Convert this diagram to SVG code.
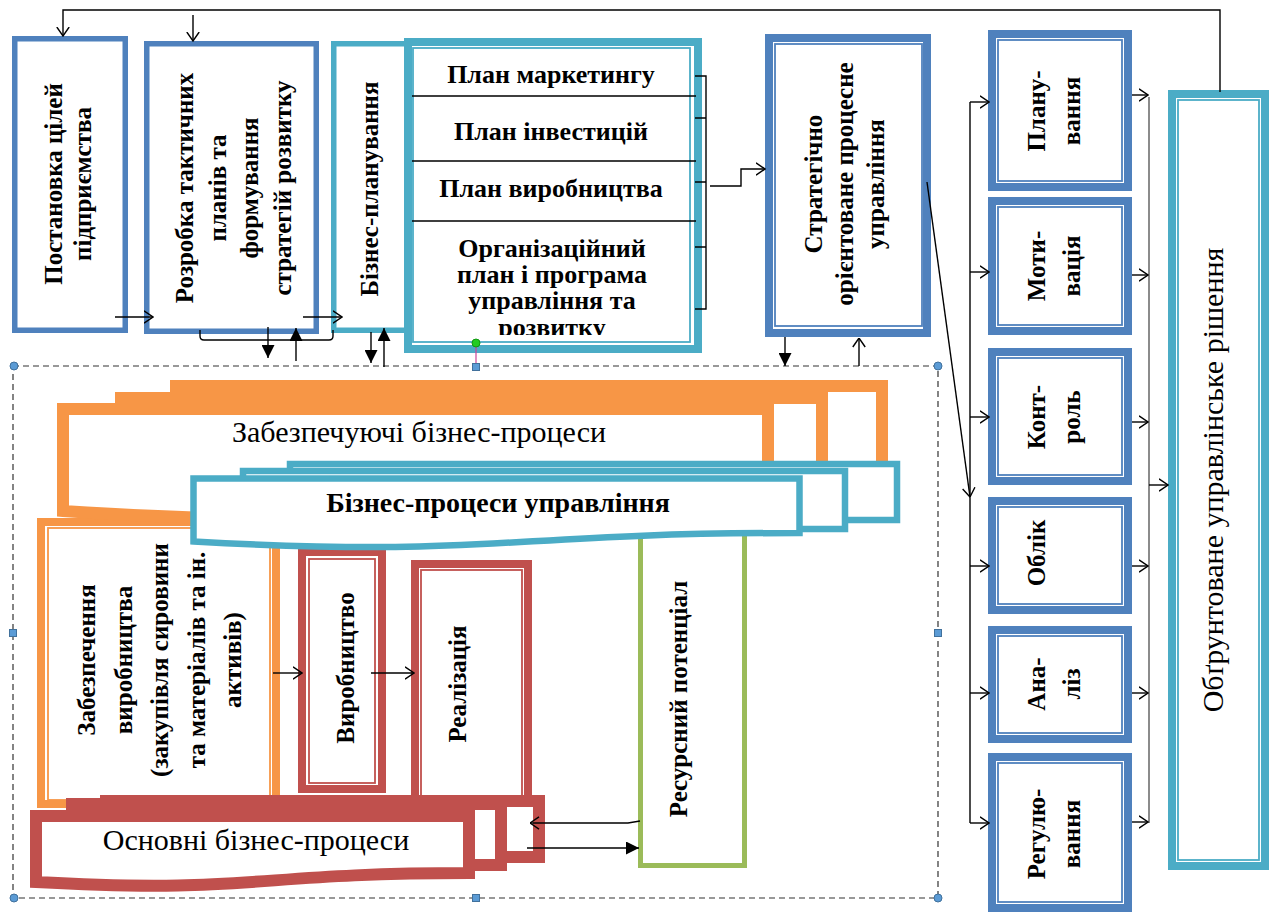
<svg xmlns="http://www.w3.org/2000/svg" width="1275" height="915" viewBox="0 0 1275 915">
<defs>
<style>
text{font-family:"Liberation Serif","Times New Roman",serif;fill:#000}
.b{font-weight:bold;font-size:25px}
.pl{font-weight:bold;font-size:26px}
.r{font-size:30px}
.thk{fill:#fff;stroke-width:8}
.thn{fill:none;stroke-width:1.8}
.one{fill:#fff;stroke-width:5.5}
.cb{stroke:#4F81BD}
.cc{stroke:#4BACC6}
.co{stroke:#F79646}
.cr{stroke:#C0504D}
.cg{stroke:#9BBB59}
.doc{fill:#fff;stroke-linejoin:miter}
.ln{fill:none;stroke:#000;stroke-width:1.4}
.gr{fill:none;stroke:#6e6e6e;stroke-width:1.6}
.op{marker-end:url(#open)}
.so{marker-end:url(#solid)}
.dash{fill:none;stroke:#333;stroke-width:1.2;stroke-dasharray:6 4}
.hc{fill:#5B9BD5;stroke:#41719C;stroke-width:1}
</style>
<marker id="open" viewBox="0 0 10 14" refX="9.5" refY="7" markerWidth="10" markerHeight="14" orient="auto" markerUnits="userSpaceOnUse">
<path d="M0.5,0.8 L9.5,7 L0.5,13.2" fill="none" stroke="#000" stroke-width="1.4"/>
</marker>
<marker id="solid" viewBox="0 0 13 13" refX="13" refY="6.5" markerWidth="13" markerHeight="13" orient="auto" markerUnits="userSpaceOnUse">
<path d="M0,0 L13,6.5 L0,13 Z" fill="#000"/>
</marker>
<clipPath id="planClip"><rect x="413" y="48" width="277" height="287"/></clipPath>
</defs>

<!-- top row -->
<g id="goals">
<rect class="one cb" x="14.75" y="38.75" width="110.5" height="291.5"/>
<text class="b" transform="translate(62,184) rotate(-90)" text-anchor="middle"><tspan x="0" y="0">Постановка цілей</tspan><tspan x="0" y="29">підприємства</tspan></text>
</g>
<g id="tactics">
<rect class="one cb" x="146.75" y="43.75" width="169.5" height="287.5"/>
<text class="b" transform="translate(193,188) rotate(-90)" text-anchor="middle"><tspan x="0" y="0">Розробка тактичних</tspan><tspan x="0" y="33">планів та</tspan><tspan x="0" y="65">формування</tspan><tspan x="0" y="98">стратегій розвитку</tspan></text>
</g>
<g id="business-planning">
<rect class="one cc" x="333.75" y="43.75" width="76" height="286.5"/>
<text class="b" transform="translate(378,189) rotate(-90)" text-anchor="middle">Бізнес-планування</text>
</g>
<g id="plans">
<rect class="thk cc" x="408" y="42" width="290" height="307"/>
<rect class="thn cc" x="413" y="48" width="277" height="294"/>
<path class="ln" d="M412,96 H696 M412,161 H696 M412,221 H696" stroke-width="1.3"/>
<text class="pl" text-anchor="middle" x="551" y="83">План маркетингу</text>
<text class="pl" text-anchor="middle" x="551" y="140">План інвестицій</text>
<text class="pl" text-anchor="middle" x="551" y="197">План виробництва</text>
<g clip-path="url(#planClip)">
<text class="pl" text-anchor="middle"><tspan x="552" y="257">Організаційний</tspan><tspan x="552" y="283">план і програма</tspan><tspan x="552" y="309">управління та</tspan><tspan x="552" y="336">розвитку</tspan></text>
</g>
</g>
<g id="strategic">
<rect class="thk cb" x="769" y="38" width="158" height="295"/>
<rect class="thn cb" x="775" y="44" width="147" height="282"/>
<text class="b" transform="translate(822,184) rotate(-90)" text-anchor="middle"><tspan x="0" y="0">Стратегічно</tspan><tspan x="0" y="31">орієнтоване процесне</tspan><tspan x="0" y="62">управління</tspan></text>
</g>

<!-- management functions -->
<g id="f-planning">
<rect class="thk cb" x="992" y="34" width="136" height="153"/>
<rect class="thn cb" x="998" y="40" width="124" height="141"/>
<text class="b" transform="translate(1045,111) rotate(-90)" text-anchor="middle"><tspan x="0" y="0">Плану-</tspan><tspan x="0" y="35">вання</tspan></text>
</g>
<g id="f-motivation">
<rect class="thk cb" x="992" y="201" width="136" height="130"/>
<rect class="thn cb" x="998" y="207" width="124" height="118"/>
<text class="b" transform="translate(1045,266) rotate(-90)" text-anchor="middle"><tspan x="0" y="0">Моти-</tspan><tspan x="0" y="35">вація</tspan></text>
</g>
<g id="f-control">
<rect class="thk cb" x="992" y="352" width="136" height="129"/>
<rect class="thn cb" x="998" y="358" width="124" height="117"/>
<text class="b" transform="translate(1045,417) rotate(-90)" text-anchor="middle"><tspan x="0" y="0">Конт-</tspan><tspan x="0" y="35">роль</tspan></text>
</g>
<g id="f-accounting">
<rect class="thk cb" x="992" y="501" width="136" height="109"/>
<rect class="thn cb" x="998" y="507" width="124" height="97"/>
<text class="b" transform="translate(1045,553) rotate(-90)" text-anchor="middle">Облік</text>
</g>
<g id="f-analysis">
<rect class="thk cb" x="992" y="630" width="136" height="109"/>
<rect class="thn cb" x="998" y="636" width="124" height="97"/>
<text class="b" transform="translate(1045,684) rotate(-90)" text-anchor="middle"><tspan x="0" y="0">Ана-</tspan><tspan x="0" y="35">ліз</tspan></text>
</g>
<g id="f-regulation">
<rect class="thk cb" x="992" y="757" width="136" height="151"/>
<rect class="thn cb" x="998" y="763" width="124" height="139"/>
<text class="b" transform="translate(1045,834) rotate(-90)" text-anchor="middle"><tspan x="0" y="0">Регулю-</tspan><tspan x="0" y="35">вання</tspan></text>
</g>
<g id="decision">
<rect class="thk cc" x="1172" y="94" width="93" height="772"/>
<rect class="thn cc" x="1178" y="100" width="81" height="760"/>
<text class="r" transform="translate(1223,480) rotate(-90)" text-anchor="middle">Обґрунтоване управлінське рішення</text>
</g>

<!-- business processes -->
<g id="supply">
<rect class="thk co" x="41" y="522" width="235" height="282"/>
<rect class="thn co" x="48" y="528" width="222" height="272"/>
<text class="b" transform="translate(95,660) rotate(-90)" text-anchor="middle"><tspan x="0" y="0">Забезпечення</tspan><tspan x="0" y="37">виробництва</tspan><tspan x="0" y="73">(закупівля сировини</tspan><tspan x="0" y="110">та матеріалів та ін.</tspan><tspan x="0" y="146">активів)</tspan></text>
</g>
<g id="supporting-processes">
<path class="doc co" stroke-width="12" d="M176,386 H882 V490 H176 Z"/>
<path class="doc co" stroke-width="12" d="M121,398 H822 V495 H121 Z"/>
<path class="doc co" stroke-width="12" d="M63,409 H768 V496 C415,496 415,534 63,511 Z"/>
<text class="r" text-anchor="middle" x="419" y="442">Забезпечуючі бізнес-процеси</text>
</g>
<g id="production">
<rect class="thk cr" x="302" y="552" width="80" height="237"/>
<rect class="thn cr" x="309" y="559" width="66" height="224"/>
<text class="b" transform="translate(354,668) rotate(-90)" text-anchor="middle">Виробництво</text>
</g>
<g id="sales">
<rect class="thk cr" x="415" y="564" width="113" height="240"/>
<rect class="thn cr" x="421" y="570" width="101" height="230"/>
<text class="b" transform="translate(466,684) rotate(-90)" text-anchor="middle">Реалізація</text>
</g>
<g id="resources">
<rect class="cg" fill="#fff" stroke-width="5" x="640.5" y="530" width="104" height="335.5"/>
<text class="b" transform="translate(687,699) rotate(-90)" text-anchor="middle">Ресурсний потенціал</text>
</g>
<g id="management-processes">
<path class="doc cc" stroke-width="6.5" d="M290,464 H897 V520 H290 Z"/>
<path class="doc cc" stroke-width="6.5" d="M243,471 H845 V529 H243 Z"/>
<path class="doc cc" stroke-width="6.5" d="M193.5,478.5 H799.5 V533 C496,533 496,558 193.5,541.5 Z"/>
<text class="b" font-size="28" style="font-size:28px" text-anchor="middle" x="498" y="512">Бізнес-процеси управління</text>
</g>
<g id="core-processes">
<path class="doc cr" stroke-width="12" d="M106,801 H539 V857 H106 Z"/>
<path class="doc cr" stroke-width="12" d="M72,804 H501 V865 H72 Z"/>
<path class="doc cr" stroke-width="12" d="M36,816 H469 V873 C252,873 252,894 36,882 Z"/>
<text class="r" text-anchor="middle" x="256" y="850">Основні бізнес-процеси</text>
</g>

<!-- group frame with handles -->
<g id="frame">
<rect class="dash" x="13" y="366" width="925" height="532"/>
<line x1="476" y1="347" x2="476" y2="363" stroke="#CC4499" stroke-width="1.2"/>
<circle cx="476" cy="343" r="4" fill="#22CC22" stroke="#119911" stroke-width="1"/>
<circle class="hc" cx="14" cy="366" r="4"/>
<circle class="hc" cx="938" cy="366" r="4"/>
<circle class="hc" cx="14" cy="898" r="4"/>
<circle class="hc" cx="938" cy="898" r="4"/>
<rect class="hc" x="472.5" y="363.5" width="7" height="7"/>
<rect class="hc" x="472.5" y="894.5" width="7" height="7"/>
<rect class="hc" x="9.5" y="629.5" width="7" height="7"/>
<rect class="hc" x="934.5" y="629.5" width="7" height="7"/>
</g>

<!-- connectors -->
<g id="connectors">
<path class="ln op" d="M1220,92 V10 H63 V36" stroke="#333" stroke-width="1.3"/>
<path class="ln op" d="M193,15 V41"/>
<path class="ln op" d="M115,317 H153"/>
<path class="ln op" d="M303,317 H342"/>
<path class="ln" d="M200,330 V336 Q200,340 204,340 H329 Q333,340 333,336 V330" stroke="#444" stroke-width="1.2"/>
<path class="ln so" d="M268,327 V358"/>
<path class="ln so" d="M296,361 V328"/>
<path class="ln so" d="M371,332 V363"/>
<path class="ln so" d="M384,367 V328"/>
<path class="ln" d="M695,76 H706 V309 H695 M695,118 H706 M695,182 H706 M695,247 H706" stroke-width="1.3"/>
<path class="ln op" d="M710,186 H741 V169 H765"/>
<path class="ln so" d="M785,337 V366"/>
<path class="ln op" d="M859,366 V338"/>
<path class="ln op" d="M927,182 L970,497"/>
<path class="ln" d="M970,102 V823"/>
<path class="ln op" d="M970,102 H989"/>
<path class="ln op" d="M970,272 H989"/>
<path class="ln op" d="M970,417 H989"/>
<path class="ln op" d="M970,566 H989"/>
<path class="ln op" d="M970,693 H989"/>
<path class="ln op" d="M970,823 H989"/>
<path class="gr" d="M1149,97 V823"/>
<path class="ln op" d="M1132,95 H1148"/>
<path class="ln op" d="M1132,275 H1148"/>
<path class="ln op" d="M1132,422 H1148"/>
<path class="ln op" d="M1132,566 H1148"/>
<path class="ln op" d="M1132,693 H1148"/>
<path class="ln op" d="M1132,822 H1148"/>
<path class="ln op" d="M1149,485 H1168"/>
<path class="ln op" d="M273,673 H302"/>
<path class="ln op" d="M371,673 H414"/>
<path class="ln op" d="M640,821 L628,823 H530"/>
<path class="ln so" d="M527,848 H639"/>
</g>
</svg>
